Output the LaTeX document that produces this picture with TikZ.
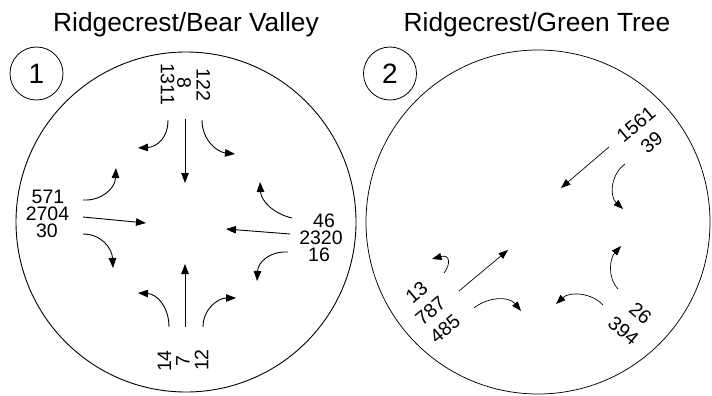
\documentclass[tikz,border=0pt]{standalone}
\usepackage{fontspec}
\setmainfont{Liberation Sans}
\usetikzlibrary{arrows.meta}
\begin{document}
\begin{tikzpicture}[x=1pt,y=-1pt,
  ring/.style={circle, draw, inner sep=0pt, line width=0.9pt},
  badge/.style={circle, draw, inner sep=0pt, minimum size=53pt, line width=0.8pt,
    font=\fontsize{28}{30}\selectfont},
  title/.style={anchor=base, inner sep=0pt, font=\fontsize{26.3}{28}\selectfont},
  vol/.style={inner sep=0pt, font=\fontsize{19.5}{20}\selectfont},
  flow/.style={line width=0.9pt, -{Triangle[length=10pt,width=7.5pt]}},
  flowb/.style={line width=0.7pt, -{Triangle[length=9.5pt,width=7pt]}}
]
\useasboundingbox (0,0) rectangle (712,396);

% ---------------- Intersection 1 ----------------
\node[title] (titleA) at (186,31.7) {Ridgecrest/Bear Valley};
\node[ring, minimum size=340pt] (ringA) at (186,222) {};
\node[badge] (badgeA) at (36.5,73.5) {1};

% west approach
\node[vol] (wL) at (48,197) {571};
\node[vol] (wT) at (47.5,214) {2704};
\node[vol] (wR) at (47,231) {30};
% east approach
\node[vol] (eR) at (324,221) {46};
\node[vol] (eT) at (321,238) {2320};
\node[vol] (eL) at (319,255) {16};
% north approach
\node[vol, rotate=-90] (nR) at (167.5,84) {1311};
\node[vol, rotate=-90] (nT) at (184,83) {8};
\node[vol, rotate=-90] (nL) at (203.5,85) {122};
% south approach
\node[vol, rotate=90] (sL) at (164.5,361) {14};
\node[vol, rotate=90] (sT) at (183,361) {7};
\node[vol, rotate=90] (sR) at (201.5,360) {12};

% movement arrows, intersection 1
\coordinate (wLa) at (83,200);  \coordinate (wLb) at (116,168);
\coordinate (wTa) at (83,217);  \coordinate (wTb) at (146,223);
\coordinate (wRa) at (83,234);  \coordinate (wRb) at (113,268);
\draw[flow] (wLa) .. controls (101,201) and (115,189) .. (wLb);
\draw[flow] (wTa) -- (wTb);
\draw[flow] (wRa) .. controls (101,234) and (112,248) .. (wRb);

\coordinate (eRa) at (292,218); \coordinate (eRb) at (260,182);
\coordinate (eTa) at (290,234); \coordinate (eTb) at (226,229);
\coordinate (eLa) at (288,252); \coordinate (eLb) at (257,281);
\draw[flow] (eRa) .. controls (274,214) and (261,201) .. (eRb);
\draw[flow] (eTa) -- (eTb);
\draw[flow] (eLa) .. controls (270,251) and (258,262) .. (eLb);

\coordinate (nRa) at (168,120); \coordinate (nRb) at (138,148);
\coordinate (nTa) at (185,119); \coordinate (nTb) at (185,183);
\coordinate (nLa) at (202,120); \coordinate (nLb) at (235,154);
\draw[flow] (nRa) .. controls (168,139) and (156,147) .. (nRb);
\draw[flow] (nTa) -- (nTb);
\draw[flow] (nLa) .. controls (202,140) and (217,152) .. (nLb);

\coordinate (sLa) at (169,327); \coordinate (sLb) at (138,293);
\coordinate (sTa) at (185,327); \coordinate (sTb) at (185,264);
\coordinate (sRa) at (203,327); \coordinate (sRb) at (236,298);
\draw[flow] (sLa) .. controls (169,307) and (157,294) .. (sLb);
\draw[flow] (sTa) -- (sTb);
\draw[flow] (sRa) .. controls (203,309) and (218,298) .. (sRb);

% ---------------- Intersection 2 ----------------
\node[title] (titleB) at (537,31.7) {Ridgecrest/Green Tree};
\node[ring, minimum size=344pt, line width=0.75pt] (ringB) at (538,222) {};
\node[badge] (badgeB) at (390,73.5) {2};

% northeast approach
\node[vol, rotate=40] (neT) at (636,124.5) {1561};
\node[vol, rotate=40] (neL) at (651.5,142.5) {39};
% southwest approach
\node[vol, rotate=40] (swU) at (416.5,292) {13};
\node[vol, rotate=40] (swT) at (430.5,311.3) {787};
\node[vol, rotate=40] (swR) at (445,328.5) {485};
% southeast approach
\node[vol, rotate=-40] (seR) at (640.5,313.5) {26};
\node[vol, rotate=-40] (seL) at (623.5,331) {394};

% movement arrows, intersection 2
\coordinate (neTa) at (609,147); \coordinate (neTb) at (561,188);
\coordinate (neLa) at (625,164); \coordinate (neLb) at (623,209);
\draw[flowb] (neTa) -- (neTb);
\draw[flowb] (neLa) .. controls (611,174) and (609,196) .. (neLb);

\coordinate (swUa) at (444,273); \coordinate (swUb) at (432,259);
\coordinate (swTa) at (459,291); \coordinate (swTb) at (508,250);
\coordinate (swRa) at (474,308); \coordinate (swRb) at (521,311);
\draw[flowb] (swUa) .. controls (451,264) and (450,254) .. (swUb);
\draw[flowb] (swTa) -- (swTb);
\draw[flowb] (swRa) .. controls (486,298) and (508,295) .. (swRb);

\coordinate (seRa) at (618,289); \coordinate (seRb) at (621,246);
\coordinate (seLa) at (603,305); \coordinate (seLb) at (556,304);
\draw[flowb] (seRa) .. controls (607,277) and (610,258) .. (seRb);
\draw[flowb] (seLa) .. controls (592,293) and (570,291) .. (seLb);
\end{tikzpicture}
\end{document}
